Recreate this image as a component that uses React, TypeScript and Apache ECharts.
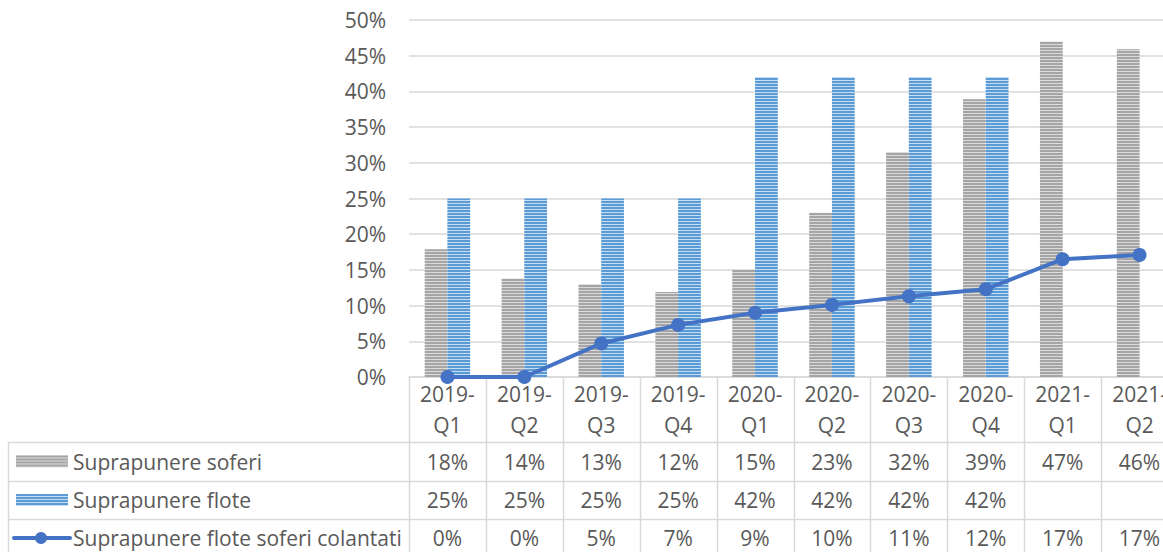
import React, { useEffect, useRef } from "react";
import * as echarts from "echarts";

// Quarterly overlap shares (percent)
const categories = [
  "2019-Q1", "2019-Q2", "2019-Q3", "2019-Q4",
  "2020-Q1", "2020-Q2", "2020-Q3", "2020-Q4",
  "2021-Q1", "2021-Q2",
];
const soferi = [17.9, 13.8, 13.0, 11.9, 15.0, 23.0, 31.5, 38.9, 47.0, 45.9];
const flote: (number | null)[] = [25, 25, 25, 25, 42, 42, 42, 42, null, null];
const colantati = [0, 0, 4.7, 7.3, 9.0, 10.1, 11.3, 12.3, 16.5, 17.1];

const seriesNames = [
  "Suprapunere soferi",
  "Suprapunere flote",
  "Suprapunere flote soferi colantati",
];
const yTicks = { min: 0, max: 50, interval: 5 };

const FONT = "Open Sans";
const FONT_SIZE = 21;
const TEXT = "#595959";
const GRID_LINE = "#d9d9d9";
const GRAY = "#a5a5a5";
const GRAY_LIGHT = "#dadada";
const BLUE = "#5b9bd5";
const BLUE_LIGHT = "#c5dcf1";
const LINE = "#4472c4";

const fmt = (v: number | null) => (v == null ? "" : `${Math.round(v)}%`);

function buildTable(chart: echarts.ECharts) {
  const c0 = chart.convertToPixel({ xAxisIndex: 0 }, 0) as number;
  const c1 = chart.convertToPixel({ xAxisIndex: 0 }, 1) as number;
  const step = c1 - c0;
  const left = c0 - step / 2;
  const right = left + step * categories.length;
  const axisY = chart.convertToPixel({ yAxisIndex: 0 }, 0) as number;

  const tableLeft = 8;
  const rowLines = [442, 481, 519];
  const rowCenters = [461.5, 500, 538];
  const bottom = 560;
  const els: any[] = [];
  const lineStyle = { stroke: GRID_LINE, lineWidth: 1.5 };

  // vertical separators between categories
  for (let k = 0; k <= categories.length; k++) {
    const x = Math.round(left + k * step) + 0.5;
    els.push({ type: "line", silent: true, shape: { x1: x, y1: axisY, x2: x, y2: bottom }, style: lineStyle });
  }
  // left border of the legend column
  els.push({ type: "line", silent: true, shape: { x1: tableLeft + 0.5, y1: rowLines[0], x2: tableLeft + 0.5, y2: bottom }, style: lineStyle });
  // row separators
  rowLines.forEach((y) => {
    els.push({ type: "line", silent: true, shape: { x1: tableLeft, y1: y + 0.5, x2: right, y2: y + 0.5 }, style: lineStyle });
  });

  // cell values
  const rows = [soferi, flote, colantati];
  rows.forEach((vals, r) => {
    vals.forEach((v, i) => {
      const t = fmt(v);
      if (!t) return;
      els.push({
        type: "text", silent: true,
        style: {
          text: t, x: c0 + i * step, y: rowCenters[r],
          fill: TEXT, font: `${FONT_SIZE}px ${FONT}`,
          align: "center", verticalAlign: "middle",
          textAlign: "center", textVerticalAlign: "middle",
        },
      });
    });
  });

  // legend keys
  const keyX = 16, keyW = 52;
  const stripeKey = (cy: number, dark: string, light: string) => {
    els.push({ type: "rect", silent: true, shape: { x: keyX, y: cy - 6, width: keyW, height: 12 }, style: { fill: light } });
    for (let s = 0; s < 4; s++) {
      els.push({ type: "rect", silent: true, shape: { x: keyX, y: cy - 6 + s * 3, width: keyW, height: 2 }, style: { fill: dark } });
    }
  };
  stripeKey(rowCenters[0], GRAY, GRAY_LIGHT);
  stripeKey(rowCenters[1], BLUE, BLUE_LIGHT);
  els.push({ type: "line", silent: true, shape: { x1: 14, y1: rowCenters[2], x2: 70, y2: rowCenters[2] }, style: { stroke: LINE, lineWidth: 4, lineCap: "round" } });
  els.push({ type: "circle", silent: true, shape: { cx: 41, cy: rowCenters[2], r: 6 }, style: { fill: LINE } });

  seriesNames.forEach((name, r) => {
    els.push({
      type: "text", silent: true,
      style: {
        text: name, x: 73, y: rowCenters[r],
        fill: TEXT, font: `${FONT_SIZE}px ${FONT}`,
        align: "left", verticalAlign: "middle",
        textAlign: "left", textVerticalAlign: "middle",
      },
    });
  });
  return els;
}

export default function App() {
  const ref = useRef<HTMLDivElement>(null);

  useEffect(() => {
    if (!ref.current) return;
    const chart = echarts.init(ref.current, null, { renderer: "svg" });
    chart.setOption({
      animation: false,
      backgroundColor: "#ffffff",
      grid: { left: 409, top: 20, width: 769, height: 357, outerBoundsMode: "none" },
      xAxis: {
        type: "category",
        data: categories,
        axisLine: { show: true, lineStyle: { color: GRID_LINE, width: 1.5 } },
        axisTick: { show: false },
        axisLabel: {
          formatter: (v: string) => v.replace("-", "-\n"),
          color: TEXT, fontFamily: FONT, fontSize: FONT_SIZE,
          lineHeight: 31, margin: 1, interval: 0,
        },
        splitLine: { show: false },
      },
      yAxis: {
        type: "value",
        min: yTicks.min, max: yTicks.max, interval: yTicks.interval,
        axisLine: { show: false },
        axisTick: { show: false },
        axisLabel: {
          formatter: "{value}%", color: TEXT, fontFamily: FONT, fontSize: FONT_SIZE, margin: 23,
        },
        splitLine: { lineStyle: { color: GRID_LINE, width: 1.5 } },
      },
      series: [
        {
          name: seriesNames[0], type: "bar", data: soferi,
          barGap: "0%", barCategoryGap: "41%",
          itemStyle: {
            color: GRAY_LIGHT,
            decal: { symbol: "rect", symbolSize: 1, dashArrayX: [1, 0], dashArrayY: [2, 1], rotation: 0, color: GRAY },
          },
        },
        {
          name: seriesNames[1], type: "bar", data: flote,
          barGap: "0%", barCategoryGap: "41%",
          itemStyle: {
            color: BLUE_LIGHT,
            decal: { symbol: "rect", symbolSize: 1, dashArrayX: [1, 0], dashArrayY: [2, 1], rotation: 0, color: BLUE },
          },
        },
        {
          name: seriesNames[2], type: "line", data: colantati,
          symbol: "circle", symbolSize: 14,
          lineStyle: { color: LINE, width: 4 },
          itemStyle: { color: LINE },
          z: 5,
        },
      ],
    });
    chart.setOption({ graphic: buildTable(chart) });
    return () => chart.dispose();
  }, []);

  return (
    <div style={{ position: "fixed", left: 0, top: 0, width: 1163, height: 552, overflow: "hidden", background: "#fff" }}>
      <div ref={ref} style={{ position: "absolute", left: 0, top: 0, width: 1185, height: 552 }} />
    </div>
  );
}
